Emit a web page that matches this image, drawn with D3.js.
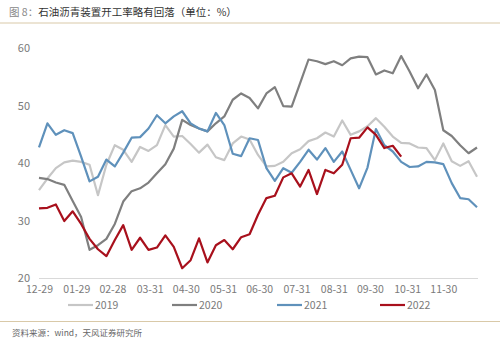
<!DOCTYPE html>
<html><head><meta charset="utf-8">
<script src="https://cdn.jsdelivr.net/npm/d3@7/dist/d3.min.js"></script>
<style>
body{margin:0;background:#fff;}
svg{display:block;font-family:"Noto Sans CJK SC","Noto Sans",sans-serif;}
</style></head>
<body><svg id="c" width="500" height="341"></svg>
<script>
const tickLabels = ["12-29","01-29","02-28","03-31","04-30","05-31","06-30","07-31","08-31","09-30","10-31","11-30"];
const tickDays = [0,31,61,92,122,153,183,214,245,275,306,336];
const yTicks = [20,30,40,50,60];
const seriesNames = ["2019","2020","2021","2022"];
const seriesColors = ["#c6c6c6","#7f7f7f","#5f91bb","#a8101c"];
const s2019 = [35.3,37.3,39.1,40.1,40.4,40.2,39.7,34.4,39.7,43.1,42.3,40.2,42.8,42.1,43.1,46.6,44.6,44.7,43.3,41.8,43.2,41.0,40.5,43.4,44.6,44.1,41.4,39.4,39.5,40.2,41.7,42.4,43.8,44.3,45.3,44.6,47.4,44.9,45.5,46.4,47.8,46.3,44.6,43.5,43.4,42.7,42.6,40.5,43.4,40.3,39.5,40.3,37.6];
const s2020 = [37.4,37.2,36.6,36.2,33.4,30.6,24.9,25.7,26.8,29.4,33.3,35.1,35.6,36.6,38.2,39.8,42.5,47.5,46.6,46.0,45.5,46.9,48.1,51.0,52.1,51.3,49.5,52.1,53.2,49.9,49.8,53.9,58.0,57.7,57.2,57.7,57.0,58.2,58.5,58.4,55.4,56.1,55.6,58.6,55.9,53.0,55.4,52.7,45.7,44.7,43.1,41.7,42.7];
const s2021 = [42.7,46.9,44.9,45.7,45.2,41.1,36.8,37.6,40.6,39.4,41.8,44.4,44.5,46.0,48.3,46.9,48.1,49.0,46.9,46.0,45.5,48.7,46.6,41.6,41.2,44.3,44.0,39.1,36.9,39.1,38.3,40.2,42.3,40.6,42.6,40.2,42.0,38.8,35.6,39.2,45.9,43.1,42.0,40.2,39.3,39.4,40.2,40.1,39.8,36.5,33.9,33.7,32.3];
const s2022 = [32.1,32.2,32.8,29.9,31.6,29.4,26.8,25.0,23.8,26.6,29.2,24.9,27.0,24.9,25.3,27.4,25.4,21.7,23.1,26.9,22.7,25.7,26.6,25.0,27.1,27.6,31.0,33.9,34.3,37.5,38.2,35.9,38.8,34.6,38.8,38.2,39.7,44.3,44.4,46.2,44.9,42.6,43.0,41.1];
const allSeries = [s2019,s2020,s2021,s2022];

const svg = d3.select("#c");
const x = d3.scaleLinear().domain([0,364]).range([39,477]);
const y = d3.scaleLinear().domain([20,60]).range([278,48]);

// title
const t = svg.append("text").attr("x",9).attr("y",16).attr("font-size",10.5).attr("fill","#333");
t.append("tspan").attr("fill","#888").text("图 8：");
t.append("tspan").text("石油沥青装置开工率略有回落（单位：%）");
svg.append("line").attr("x1",0).attr("x2",500).attr("y1",23).attr("y2",23).attr("stroke","#d9c9a8").attr("stroke-width",1);

// y axis labels
const ya = svg.append("g").attr("transform","translate(32,0)")
  .call(d3.axisLeft(y).tickValues(yTicks).tickSize(0).tickPadding(2));
ya.select(".domain").remove();
ya.selectAll("text").attr("font-size",11).attr("fill","#7a7a7a").attr("font-family","Noto Sans CJK SC");

// x axis
const xa = svg.append("g").attr("transform","translate(0,278)")
  .call(d3.axisBottom(x).tickValues(tickDays).tickFormat((d,i)=>tickLabels[i]).tickSize(0).tickPadding(8));
xa.select(".domain").attr("stroke","#d9d9d9").attr("d","M39,0.5H478");
xa.selectAll("text").attr("font-size",10.5).attr("fill","#7a7a7a").attr("font-family","Noto Sans CJK SC");

// lines
const line = d3.line().x((d,i)=>x(i*7)).y(d=>y(d));
allSeries.forEach((s,k)=>{
  svg.append("path").datum(s).attr("d",line).attr("fill","none")
    .attr("stroke",seriesColors[k]).attr("stroke-width",2.2).attr("stroke-linejoin","round");
});

// legend
const legX = [68,172,277,380];
seriesNames.forEach((n,k)=>{
  svg.append("line").attr("x1",legX[k]).attr("x2",legX[k]+25).attr("y1",305).attr("y2",305)
    .attr("stroke",seriesColors[k]).attr("stroke-width",2.2);
  svg.append("text").attr("x",legX[k]+27).attr("y",309).attr("font-size",10.5).attr("fill","#7a7a7a").text(n);
});

svg.append("line").attr("x1",0).attr("x2",500).attr("y1",321.5).attr("y2",321.5).attr("stroke","#d9c9a8").attr("stroke-width",1);
svg.append("text").attr("x",12).attr("y",336).attr("font-size",8.5).attr("fill","#666").text("资料来源：wind，天风证券研究所");
</script></body></html>
